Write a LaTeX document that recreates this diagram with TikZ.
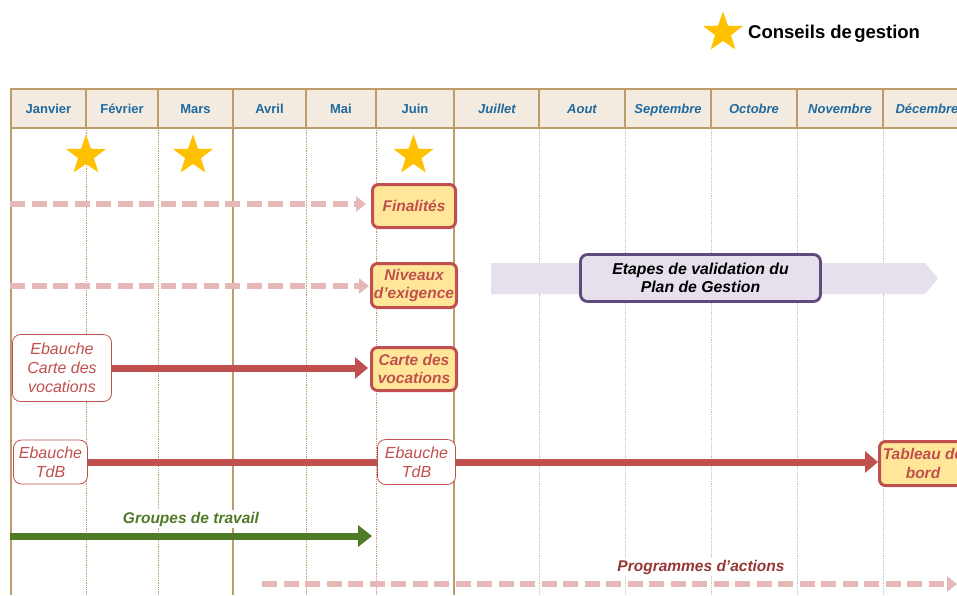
\documentclass[tikz,border=0pt]{standalone}
\usepackage{fontspec}
\setmainfont{Liberation Sans}
\usetikzlibrary{shapes.geometric,arrows.meta}
\definecolor{hdrfill}{HTML}{F3EBDF}
\definecolor{hdrline}{HTML}{BC9C6A}
\definecolor{gridgrey}{HTML}{C4C4C4}
\definecolor{monthblue}{HTML}{1F6AA0}
\definecolor{boxred}{HTML}{C0504D}
\definecolor{boxyellow}{HTML}{FFE699}
\definecolor{pinkdash}{HTML}{E6B9B8}
\definecolor{darkred}{HTML}{953735}
\definecolor{grn}{HTML}{4F7A28}
\definecolor{lavfill}{HTML}{E5E0EC}
\definecolor{purp}{HTML}{604A7B}
\definecolor{staryellow}{HTML}{FFC000}
\begin{document}
\begin{tikzpicture}[x=1pt,y=-1pt,
  month/.style={font=\fontsize{13}{15}\selectfont\bfseries, text=monthblue, inner sep=0pt, anchor=base},
  monthit/.style={font=\fontsize{13}{15}\selectfont\bfseries\itshape, text=monthblue, inner sep=0pt, anchor=base},
  starshape/.style={star, star points=5, star point ratio=2.5, minimum size=42pt, inner sep=0pt, fill=staryellow, draw=none},
  ybox/.style={draw=boxred, line width=3pt, fill=boxyellow, rounded corners=6pt, text=boxred,
    font=\fontsize{15.5}{18.5}\selectfont\bfseries\itshape, align=center, inner sep=0pt},
  ebox/.style={draw=boxred, line width=0.8pt, fill=white, rounded corners=8pt, text=boxred,
    font=\fontsize{16}{19}\selectfont\itshape, align=center, inner sep=0pt},
  pbox/.style={draw=purp, line width=2.8pt, fill=lavfill, rounded corners=7pt, text=black,
    font=\fontsize{15.8}{18.5}\selectfont\bfseries\itshape, align=center, inner sep=0pt},
  lab/.style={fill=white, inner sep=1.5pt, font=\fontsize{15.5}{18}\selectfont\bfseries\itshape},
  pinkarrow/.style={draw=pinkdash, line width=5.5pt, dash pattern=on 15pt off 6.5pt,
    -{Triangle[length=10pt,width=15pt]}},
  redarrow/.style={draw=boxred, line width=7pt, -{Triangle[length=13pt,width=21pt]}},
  redline/.style={draw=boxred, line width=7pt},
  grnarrow/.style={draw=grn, line width=7pt, -{Triangle[length=14pt,width=21pt]}},
  solidgrid/.style={draw=hdrline, line width=1.2pt},
  dotgrid/.style={draw=hdrline, line width=0.8pt, dash pattern=on 0.8pt off 1pt},
  greygrid/.style={draw=gridgrey, line width=0.8pt, dash pattern=on 0.8pt off 1pt}
]
\useasboundingbox (0,0) rectangle (957,595);
\clip (0,0) rectangle (957,595);

% grid lines below header
\foreach \x in {11,233,454} \draw[solidgrid] (\x,128) -- (\x,595);
\foreach \x in {86,158,306,376} \draw[dotgrid] (\x,128) -- (\x,595);
\foreach \x in {539,625,711,797,883} \draw[greygrid] (\x,128) -- (\x,595);

% header
\fill[hdrfill] (11,89) rectangle (960,128);
\foreach \x in {11,86,158,233,306,376,454,539,625,711,797,883}
  \draw[hdrline, line width=1.3pt] (\x,89) -- (\x,128);
\draw[hdrline, line width=2.6pt] (10,89) -- (960,89);
\draw[hdrline, line width=1.5pt] (11,128) -- (960,128);

\node[month] (m1) at (48.5,113) {Janvier};
\node[month] (m2) at (122,113) {Février};
\node[month] (m3) at (195.5,113) {Mars};
\node[month] (m4) at (269.5,113) {Avril};
\node[month] (m5) at (341,113) {Mai};
\node[month] (m6) at (415,113) {Juin};
\node[monthit] (m7) at (497,113) {Juillet};
\node[monthit] (m8) at (582,113) {Aout};
\node[monthit] (m9) at (668,113) {Septembre};
\node[monthit] (m10) at (754,113) {Octobre};
\node[monthit] (m11) at (840,113) {Novembre};
\node[monthit] (m12) at (927,113) {Décembre};

% legend
\node[starshape] (lstar) at (723,32.5) {};
\node[anchor=west, inner sep=0pt, font=\fontsize{18.5}{21}\selectfont\bfseries] (ltxt) at (748,33.5) {Conseils de\hspace{0.12em}gestion};

% stars
\node[starshape] (s1) at (86,155.5) {};
\node[starshape] (s2) at (193,155.5) {};
\node[starshape] (s3) at (413.5,155.5) {};

% lavender arrow
\fill[lavfill] (491,263) -- (925,263) -- (938,278.5) -- (925,294) -- (491,294) -- cycle;
\node[pbox, minimum width=240pt, minimum height=47pt] (val) at (700.5,278) {Etapes de validation du\\Plan de Gestion};

% yellow boxes
\node[ybox, minimum width=83pt, minimum height=43pt] (fin) at (414,206) {Finalités};
\node[ybox, minimum width=85pt, minimum height=44pt] (niv) at (414,285.5) {Niveaux\\d’exigence};
\node[ybox, minimum width=85pt, minimum height=43pt] (car) at (414,369) {Carte des\\vocations};
\node[ybox, minimum width=87pt, minimum height=44pt] (tab) at (923,463.5) {Tableau de\\bord};

% draft boxes
\node[ebox, minimum width=99pt, minimum height=67pt] (ebc) at (62,368) {Ebauche\\Carte des\\vocations};
\node[ebox, minimum width=74pt, minimum height=44pt] (tdb1) at (50.5,462) {Ebauche\\TdB};
\node[ebox, minimum width=78pt, minimum height=45pt] (tdb2) at (416.5,462) {Ebauche\\TdB};

% connectors
\coordinate (p1s) at (10,204);
\coordinate (p2s) at (10,286);
\draw[pinkarrow, shorten >=5pt] (p1s) -- (p1s -| fin.west);
\draw[pinkarrow, shorten >=1pt] (p2s) -- (p2s -| niv.west);
\draw[redarrow, shorten >=2pt] (ebc.east) -- (ebc.east -| car.west);
\draw[redline] (tdb1.east) -- (tdb2.west);
\draw[redarrow] (tdb2.east) -- (tdb2.east -| tab.west);

\coordinate (g1) at (10,536);
\coordinate (g2) at (372,536);
\draw[grnarrow] (g1) -- (g2);
\node[lab, text=grn] (glab) at (191,519) {Groupes de travail};

\coordinate (pa1) at (262,584);
\coordinate (pa2) at (957,584);
\draw[pinkarrow] (pa1) -- (pa2);
\node[lab, text=darkred] (plab) at (701,567) {Programmes d’actions};
\end{tikzpicture}
\end{document}
